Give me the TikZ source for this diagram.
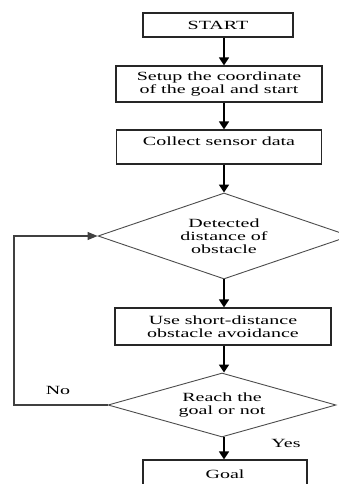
\documentclass[tikz,border=0pt]{standalone}
\usepackage{fontspec}
\setmainfont{Liberation Serif}[FakeStretch=1.6]
\usetikzlibrary{shapes.geometric,arrows.meta}
\begin{document}
\begin{tikzpicture}[x=1pt,y=-1pt,
  every node/.style={font=\fontsize{12.5}{13}\selectfont, text=black},
  box/.style={draw=black!85, line width=1.2pt, rectangle, inner sep=0pt, align=center},
  dec/.style={draw=black!70, line width=0.9pt, diamond, inner sep=0pt, align=center},
  flow/.style={draw=black, line width=1.6pt, -{Triangle[width=10pt,length=8pt]}},
  loopline/.style={draw=black!75, line width=1.2pt, -{Triangle[width=8pt,length=10pt]}}]
\useasboundingbox (0,0) rectangle (339,484);
\node[box, minimum width=150, minimum height=24] (start) at (218,25) {START};
\node[box, minimum width=206, minimum height=36] (setup) at (219,84) {Setup the coordinate\\of the goal and start};
\node[box, minimum width=205, minimum height=34, text depth=11pt] (collect) at (219,147) {Collect sensor data};
\node[dec, shape aspect=2.93, minimum width=252, minimum height=86] (d1) at (224,236) {Detected\\distance of\\obstacle};
\node[box, minimum width=216, minimum height=37] (use) at (223,326.5) {Use short-distance\\obstacle avoidance};
\node[dec, shape aspect=3.56, minimum width=228, minimum height=64] (d2) at (222,405) {Reach the\\goal or not};
\node[box, minimum width=164, minimum height=28] (goal) at (225,474) {Goal};
\coordinate (lx) at (14,0);
\draw[flow] (start.south -| d1.north) -- (setup.north -| d1.north);
\draw[flow] (setup.south -| d1.north) -- (collect.north -| d1.north);
\draw[flow] (collect.south -| d1.north) -- (d1.north);
\draw[flow] (d1.south) -- (use.north -| d1.south);
\draw[flow] (use.south -| d1.south) -- (d2.north -| d1.south);
\draw[flow] (d2.south -| d1.south) -- (goal.north -| d1.south);
\draw[loopline] (d2.west) -- (d2.west -| lx) -- (d1.west -| lx) -- (d1.west);
\node (no) at (58,390) {No};
\node (yes) at (286,443) {Yes};
\end{tikzpicture}
\end{document}
